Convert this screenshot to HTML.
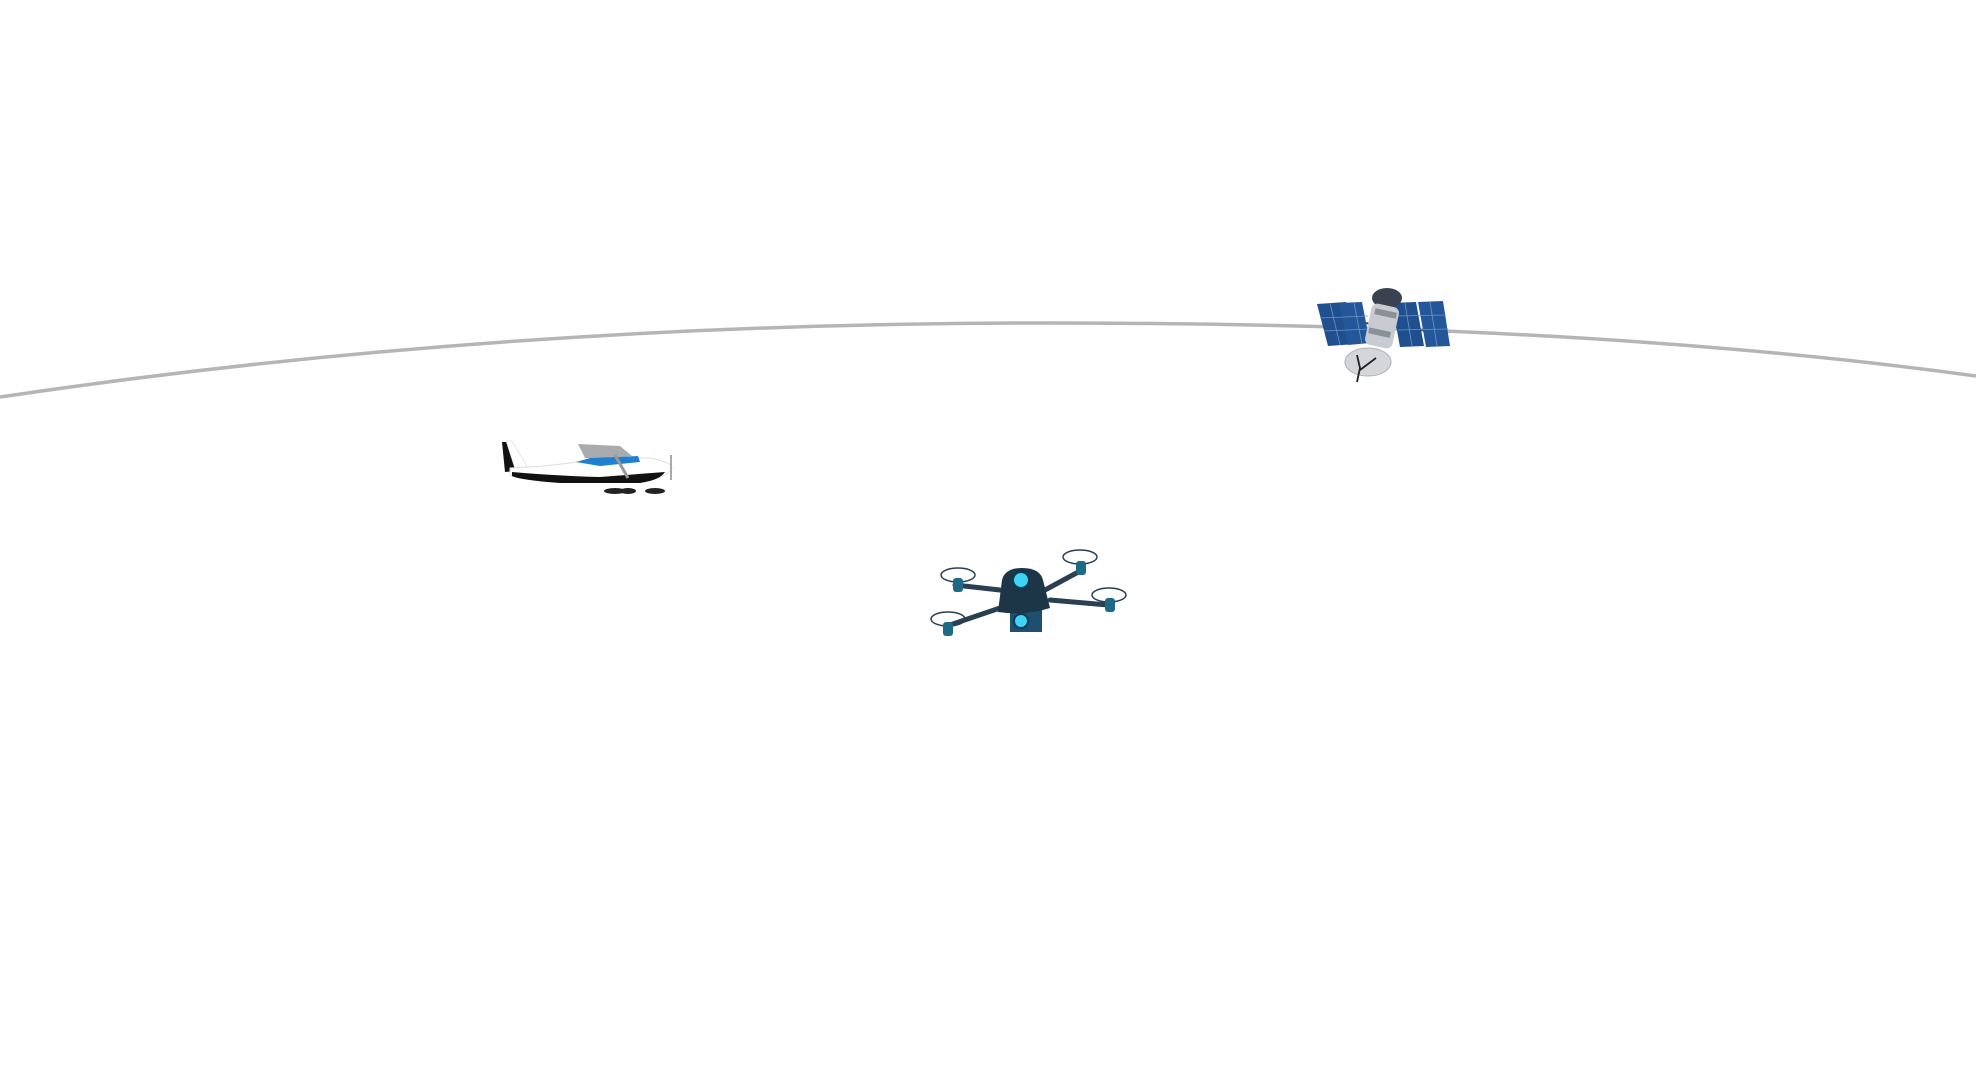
<!DOCTYPE html>
<html><head><meta charset="utf-8"><style>html,body{margin:0;padding:0;background:#fff;width:1976px;height:1080px;overflow:hidden}</style></head>
<body>
<svg width="1976" height="1080" viewBox="0 0 1976 1080" xmlns="http://www.w3.org/2000/svg">
<path d="M0,397 C 350,345 700,323 1046,323 C 1450,323 1750,345 1976,376" fill="none" stroke="#b5b5b5" stroke-width="3.5"/>
<!-- satellite -->
<g>
 <line x1="1340" y1="320" x2="1440" y2="332" stroke="#444" stroke-width="2"/>
 <polygon points="1317,304 1346,302 1356,344 1328,346" fill="#1f4f8f"/>
 <polygon points="1339,303 1362,302 1370,343 1348,345" fill="#24579a"/>
 <polygon points="1392,303 1416,302 1424,346 1400,347" fill="#1f4f8f"/>
 <polygon points="1418,302 1443,301 1450,346 1426,347" fill="#24579a"/>
 <g stroke="#6f93c4" stroke-width="0.8">
  <line x1="1320" y1="318" x2="1368" y2="316"/><line x1="1324" y1="331" x2="1370" y2="329"/>
  <line x1="1396" y1="316" x2="1446" y2="315"/><line x1="1398" y1="330" x2="1448" y2="329"/>
  <line x1="1330" y1="303" x2="1340" y2="345"/><line x1="1354" y1="303" x2="1362" y2="344"/>
  <line x1="1405" y1="303" x2="1412" y2="346"/><line x1="1430" y1="302" x2="1437" y2="346"/>
 </g>
 <ellipse cx="1387" cy="298" rx="15" ry="10" fill="#3a4250"/>
 <rect x="1368" y="305" width="28" height="42" rx="6" fill="#c8ccd2" transform="rotate(12 1382 326)"/>
 <rect x="1372" y="310" width="22" height="6" fill="#8a9098" transform="rotate(12 1382 326)"/>
 <rect x="1370" y="330" width="22" height="6" fill="#8a9098" transform="rotate(12 1382 326)"/>
 <ellipse cx="1368" cy="362" rx="23" ry="14" fill="#d4d6da" stroke="#b0b3b8"/>
 <path d="M1357,355 L1360,368 L1357,382 M1376,358 L1360,370" stroke="#222" stroke-width="1.8" fill="none"/>
</g>
<!-- plane -->
<g>
 <polygon points="502,442 510,442 525,470 505,472" fill="#111"/>
 <polygon points="506,441 512,441 528,468 515,469" fill="#fff" stroke="#ccc" stroke-width="0.5"/>
 <path d="M510,468 Q560,466 600,458 L650,458 Q672,462 672,468 Q668,478 640,482 L560,482 Q520,480 510,475 Z" fill="#fff" stroke="#ddd"/>
 <path d="M512,472 Q560,476 600,477 L665,472 Q660,480 640,483 L560,483 Q520,480 512,476Z" fill="#111"/>
 <polygon points="578,444 620,446 632,456 600,458 585,458" fill="#a9abae"/>
 <polygon points="576,462 590,458 638,456 640,462 600,466" fill="#1f7fd0"/>
 <line x1="615" y1="455" x2="628" y2="478" stroke="#999" stroke-width="3"/>
 <line x1="671" y1="455" x2="671" y2="480" stroke="#aaa" stroke-width="2"/>
 <ellipse cx="615" cy="491" rx="11" ry="3" fill="#222"/>
 <ellipse cx="628" cy="491" rx="8" ry="3" fill="#222"/>
 <ellipse cx="655" cy="491" rx="10" ry="3" fill="#222"/>
</g>
<!-- drone -->
<g>
 <g stroke="#2a3f52" stroke-width="5" stroke-linecap="round">
  <line x1="1000" y1="590" x2="955" y2="585"/>
  <line x1="1000" y1="608" x2="950" y2="625"/>
  <line x1="1045" y1="590" x2="1082" y2="570"/>
  <line x1="1050" y1="600" x2="1108" y2="605"/>
 </g>
 <g fill="none" stroke="#2a3f52" stroke-width="1.5">
  <ellipse cx="958" cy="575" rx="17" ry="7"/>
  <ellipse cx="948" cy="619" rx="17" ry="7"/>
  <ellipse cx="1080" cy="557" rx="17" ry="7"/>
  <ellipse cx="1109" cy="595" rx="17" ry="7"/>
 </g>
 <g fill="#1e6a86">
  <rect x="953" y="578" width="10" height="14" rx="3"/>
  <rect x="943" y="622" width="10" height="14" rx="3"/>
  <rect x="1076" y="561" width="10" height="14" rx="3"/>
  <rect x="1105" y="598" width="10" height="14" rx="3"/>
 </g>
 <rect x="1010" y="610" width="32" height="22" fill="#1f4f6e"/>
 <circle cx="1021" cy="621" r="7" fill="#3fd3f5" stroke="#0b3a55" stroke-width="2"/>
 <path d="M998,612 L1002,580 Q1005,568 1022,568 Q1040,568 1043,580 L1050,608 Q1025,616 998,612Z" fill="#1c3647"/>
 <circle cx="1021" cy="580" r="8" fill="#3fd3f5" stroke="#0b3a55" stroke-width="2"/>
</g>
</svg>
</body></html>
